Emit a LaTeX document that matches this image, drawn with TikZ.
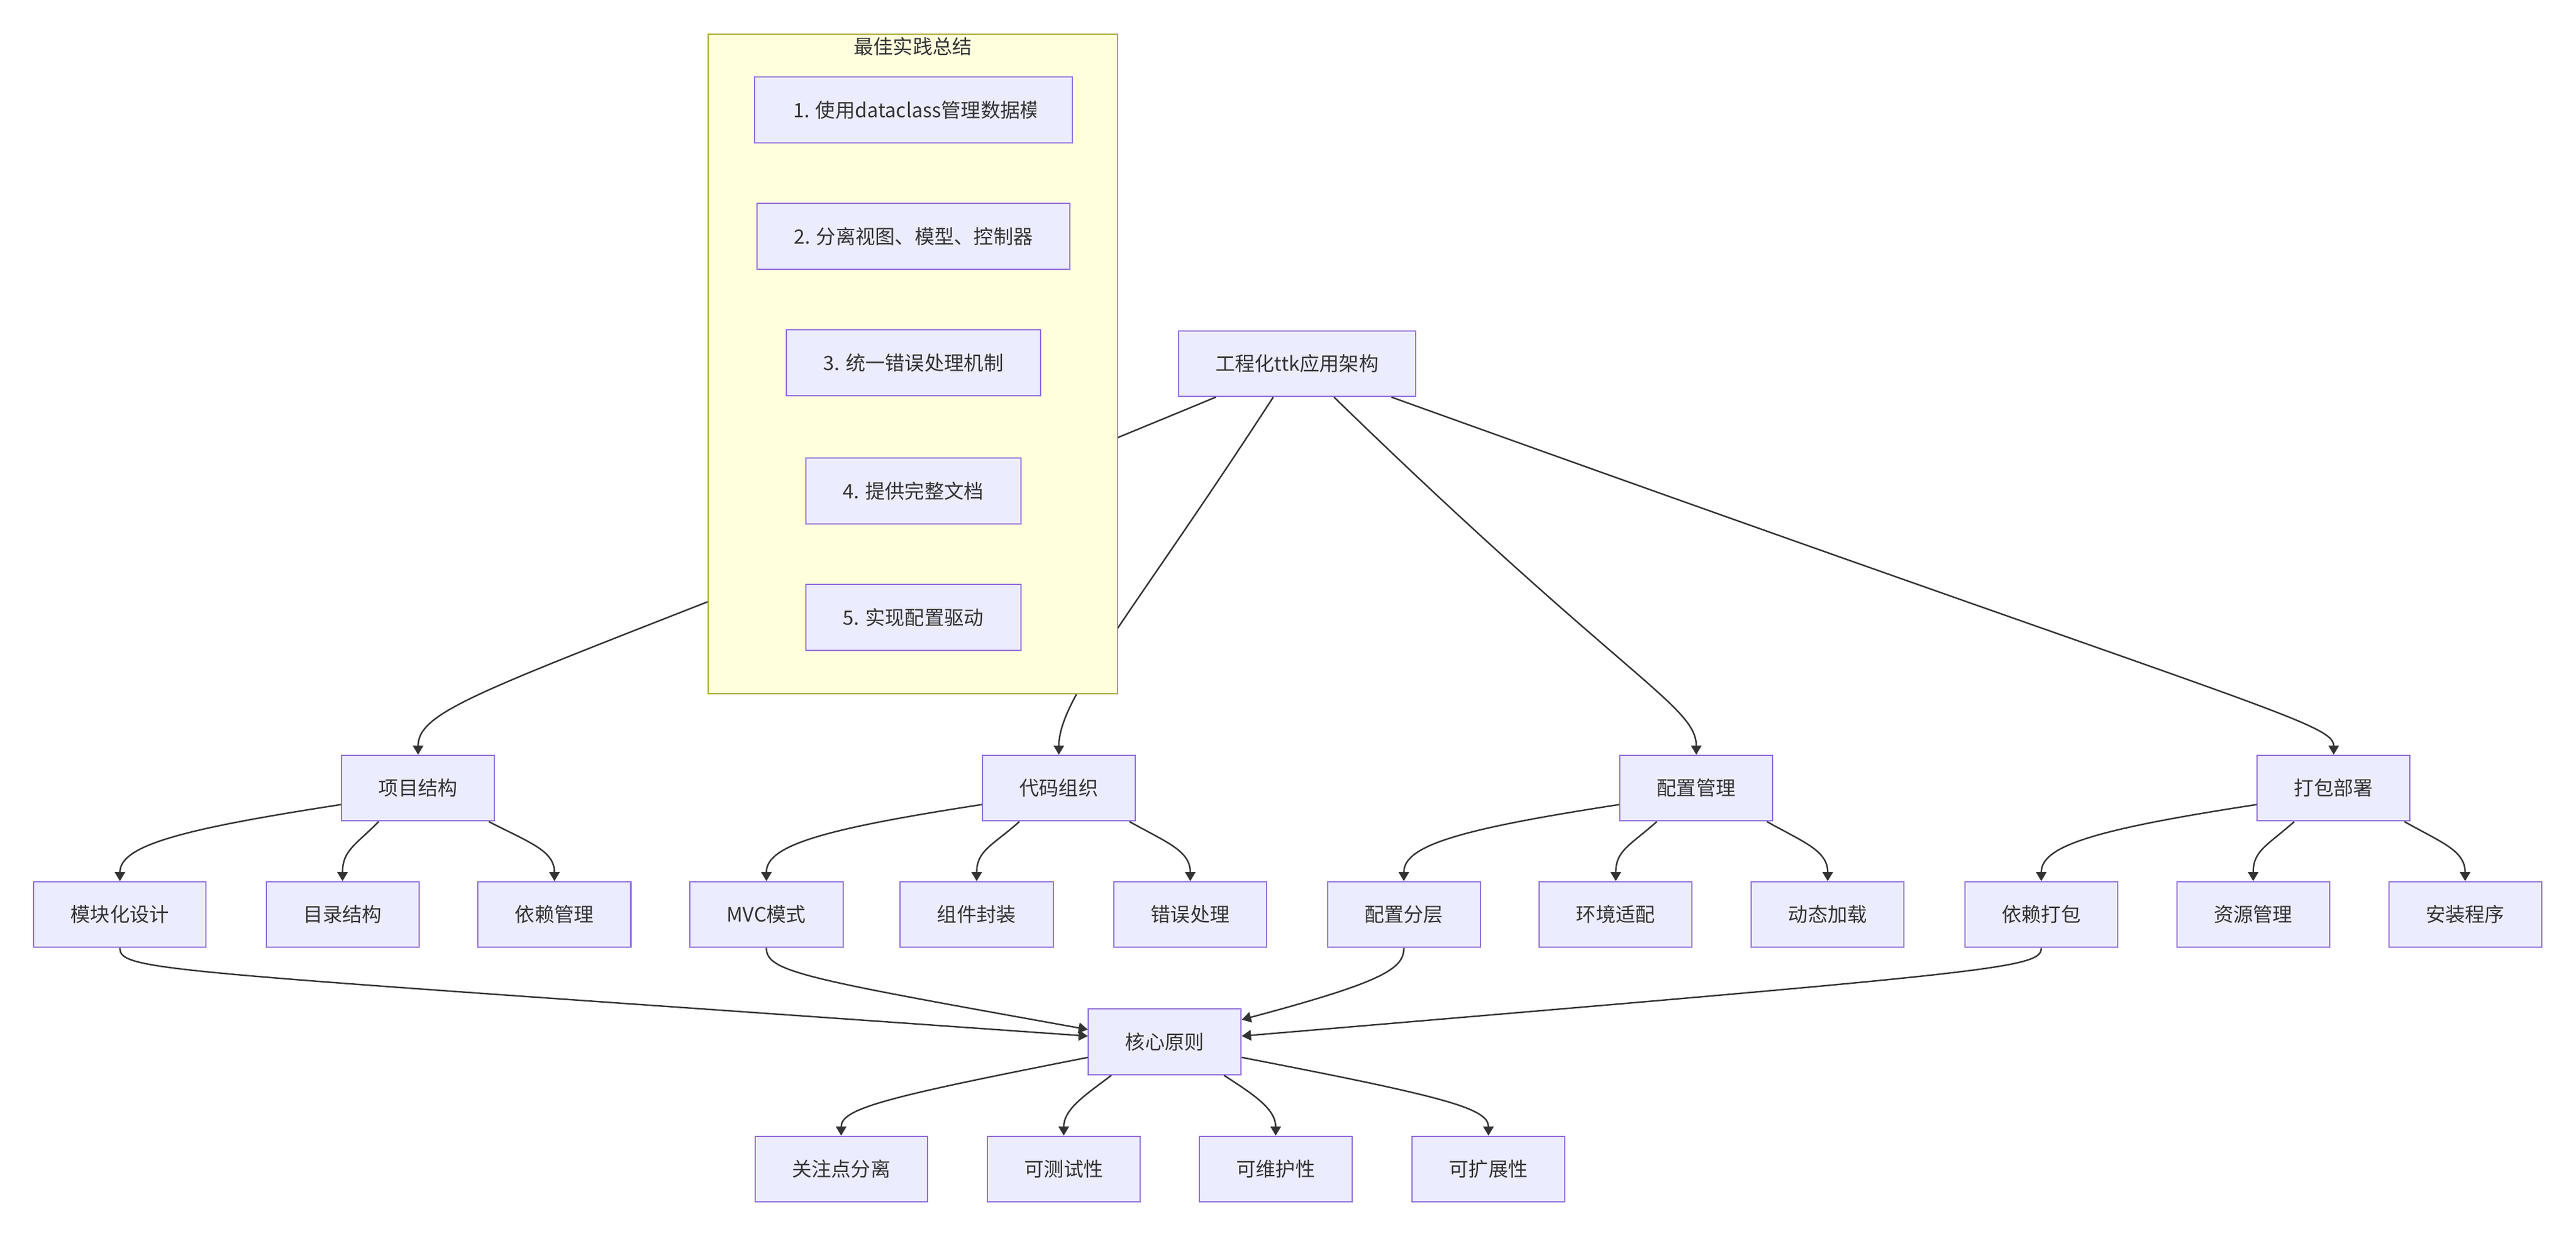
\documentclass[tikz,border=0pt]{standalone}
\usepackage{fontspec}
\setmainfont{Noto Sans CJK SC}
\usepackage{tikz}
\usetikzlibrary{arrows.meta}
\usetikzlibrary{positioning}
\definecolor{boxfill}{HTML}{ECECFF}
\definecolor{boxline}{HTML}{9370DB}
\definecolor{groupfill}{HTML}{FFFFDE}
\definecolor{groupline}{HTML}{AAAA33}
\definecolor{ink}{HTML}{333333}
\tikzset{
    block/.style={
           rectangle,
           draw=boxline,
           fill=boxfill,
           line width=0.75pt,
           minimum height=40pt,
           inner xsep=22.5pt,
           inner ysep=0pt,
           text=ink,
           font=\fontsize{12}{14}\selectfont,
           text centered,
           },
    group/.style={
           rectangle,
           draw=groupline,
           fill=groupfill,
           line width=0.75pt,
           },
    link/.style={
           draw=ink,
           line width=0.9pt,
           },
}

\begin{document}
\begin{tikzpicture}[->,>={Triangle[length=5.6pt,width=6.4pt]},x=1pt,y=-1pt]

 \useasboundingbox (0,0) rectangle (1568,752.7);

 \node[block] (ROOT) at (789.5,221.5) {工程化ttk应用架构};

 \node[block] (PROJ) at (254.5,480) {项目结构};
 \node[block, node distance=390pt, right of=PROJ] (CODE) {代码组织};
 \node[block, node distance=388pt, right of=CODE] (CONF) {配置管理};
 \node[block, node distance=388pt, right of=CONF] (PACK) {打包部署};

 \node[block] (MOD) at (73,557) {模块化设计};
 \node[block, node distance=135.5pt, right of=MOD] (DIR) {目录结构};
 \node[block, node distance=129pt, right of=DIR] (DEP) {依赖管理};
 \node[block, node distance=129pt, right of=DEP] (MVC) {MVC模式};
 \node[block, node distance=128pt, right of=MVC] (COMP) {组件封装};
 \node[block, node distance=130pt, right of=COMP] (ERR) {错误处理};
 \node[block, node distance=130pt, right of=ERR] (LAYER) {配置分层};
 \node[block, node distance=129pt, right of=LAYER] (ENV) {环境适配};
 \node[block, node distance=129pt, right of=ENV] (LOAD) {动态加载};
 \node[block, node distance=130pt, right of=LOAD] (BUND) {依赖打包};
 \node[block, node distance=129pt, right of=BUND] (RES) {资源管理};
 \node[block, node distance=129pt, right of=RES] (SETUP) {安装程序};

 \node[block] (CORE) at (709,634.5) {核心原则};

 \node[block] (SEP) at (512,712) {关注点分离};
 \node[block, node distance=135.5pt, right of=SEP] (TEST) {可测试性};
 \node[block, node distance=129pt, right of=TEST] (MAINT) {可维护性};
 \node[block, node distance=129.5pt, right of=MAINT] (EXT) {可扩展性};

 \draw[link] ([xshift=-49.5pt]ROOT.south) .. controls (330,412) and (254.5,425) .. (PROJ.north);
 \draw[link] ([xshift=-14.5pt]ROOT.south) .. controls (690,373) and (644.5,425) .. (CODE.north);
 \draw[link] ([xshift=22.5pt]ROOT.south) .. controls (990,415) and (1032.5,430) .. (CONF.north);
 \draw[link] ([xshift=57.5pt]ROOT.south) .. controls (1370,430) and (1420.5,440) .. (PACK.north);

 \draw[link] ([yshift=-10pt]PROJ.west) .. controls (110,505) and (73,515) .. (MOD.north);
 \draw[link] ([xshift=-24pt]PROJ.south) .. controls (216,515) and (208.5,518) .. (DIR.north);
 \draw[link] ([xshift=43pt]PROJ.south) .. controls (322,513) and (337.5,518) .. (DEP.north);

 \draw[link] ([yshift=-10pt]CODE.west) .. controls (500,505) and (466.5,515) .. (MVC.north);
 \draw[link] ([xshift=-24pt]CODE.south) .. controls (604,515) and (594.5,518) .. (COMP.north);
 \draw[link] ([xshift=43pt]CODE.south) .. controls (710,513) and (724.5,518) .. (ERR.north);

 \draw[link] ([yshift=-10pt]CONF.west) .. controls (888,505) and (854.5,515) .. (LAYER.north);
 \draw[link] ([xshift=-24pt]CONF.south) .. controls (992,515) and (983.5,518) .. (ENV.north);
 \draw[link] ([xshift=43pt]CONF.south) .. controls (1098,513) and (1112.5,518) .. (LOAD.north);

 \draw[link] ([yshift=-10pt]PACK.west) .. controls (1276,505) and (1242.5,515) .. (BUND.north);
 \draw[link] ([xshift=-24pt]PACK.south) .. controls (1380,515) and (1371.5,518) .. (RES.north);
 \draw[link] ([xshift=43pt]PACK.south) .. controls (1486,513) and (1500.5,518) .. (SETUP.north);

 \draw[link] (MOD.south) .. controls (73,592) and (100,591) .. ([yshift=3.5pt]CORE.west);
 \draw[link] (MVC.south) .. controls (466.5,592) and (490,596) .. ([yshift=7.5pt]CORE.west);
 \draw[link] (LAYER.south) .. controls (854.5,590) and (842,598) .. ([yshift=13.5pt]CORE.east);
 \draw[link] (BUND.south) .. controls (1242.5,590) and (1215,592) .. ([yshift=3.5pt]CORE.east);

 \draw[link] ([yshift=-9.5pt]CORE.west) .. controls (540,668) and (512,675) .. (SEP.north);
 \draw[link] ([xshift=-32.5pt]CORE.south) .. controls (662,666) and (647.5,675) .. (TEST.north);
 \draw[link] ([xshift=36pt]CORE.south) .. controls (762,666) and (776.5,675) .. (MAINT.north);
 \draw[link] ([yshift=-9.5pt]CORE.east) .. controls (880,668) and (906,675) .. (EXT.north);

 \node[group, minimum width=249.3pt, minimum height=401.8pt] (BEST) at (555.7,221.6) {};
 \node[below=2.3pt of BEST.north, inner sep=0pt, text=ink,
 font=\fontsize{12}{14}\selectfont] (BESTTITLE) {最佳实践总结};

 \node[block, minimum width=193.4pt,
 path picture={
   \clip ([xshift=23.2pt]path picture bounding box.south west)
     rectangle ([xshift=-22.2pt]path picture bounding box.north east);
   \node[anchor=west, inner sep=0pt, minimum width=0pt, minimum height=0pt,
     text=ink, font=\fontsize{12}{14}\selectfont]
     at ([xshift=23.2pt]path picture bounding box.west) {1. 使用dataclass管理数据模型};
 }] (P1) at (556,67) {};
 \node[block, node distance=77pt, below of=P1] (P2) {2. 分离视图、模型、控制器};
 \node[block, node distance=77pt, below of=P2] (P3) {3. 统一错误处理机制};
 \node[block, node distance=78pt, below of=P3] (P4) {4. 提供完整文档};
 \node[block, node distance=77pt, below of=P4] (P5) {5. 实现配置驱动};

\end{tikzpicture}
\end{document}
